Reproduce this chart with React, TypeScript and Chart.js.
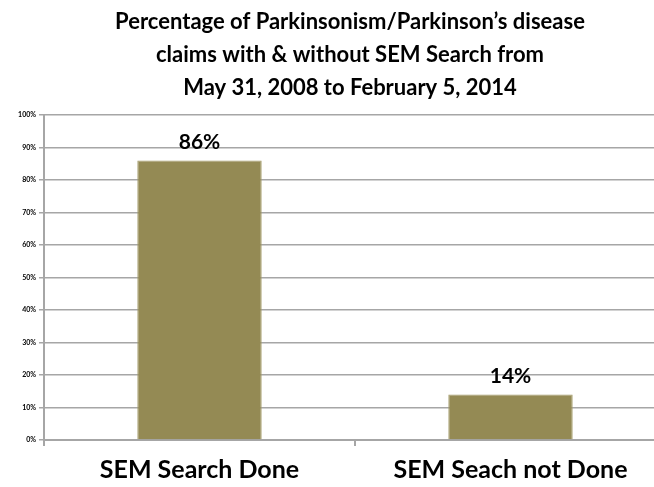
import React, { useEffect, useRef } from "react";
import { Chart, registerables } from "chart.js";

Chart.register(...registerables);

const categories = ["SEM Search Done", "SEM Seach not Done"];
const values = [86, 14];
const valueLabels = ["86%", "14%"];
const titleLines = [
  "Percentage of Parkinsonism/Parkinson\u2019s disease",
  "claims with & without SEM Search from",
  "May 31, 2008 to February 5, 2014",
];

const FONT = "Lato, 'Open Sans', sans-serif";

const barLabelPlugin = {
  id: "barLabels",
  afterDatasetsDraw(chart: any) {
    const ctx = chart.ctx;
    const meta = chart.getDatasetMeta(0);
    ctx.save();
    ctx.font = `bold 21px ${FONT}`;
    ctx.fillStyle = "#000";
    ctx.textAlign = "center";
    ctx.textBaseline = "middle";
    meta.data.forEach((bar: any, i: number) => {
      ctx.fillText(valueLabels[i], bar.x, bar.y - 18);
    });
    ctx.restore();
  },
};

const titlePlugin = {
  id: "centerTitle",
  afterDraw(chart: any) {
    const ctx = chart.ctx;
    ctx.save();
    ctx.font = `bold 22px ${FONT}`;
    ctx.fillStyle = "#000";
    ctx.textAlign = "center";
    ctx.textBaseline = "middle";
    titleLines.forEach((line, i) => {
      ctx.fillText(line, chart.width / 2, 22 + i * 33);
    });
    ctx.restore();
  },
};

export default function App() {
  const ref = useRef<HTMLCanvasElement>(null);
  useEffect(() => {
    if (!ref.current) return;
    const chart = new Chart(ref.current, {
      type: "bar",
      data: {
        labels: categories,
        datasets: [
          {
            data: values,
            backgroundColor: "#948A54",
            borderColor: "#A39A68",
            borderWidth: 1,
            barPercentage: 0.4,
            categoryPercentage: 1,
          },
        ],
      },
      options: {
        responsive: false,
        animation: false,
        layout: { padding: { left: 0, right: 34, top: 115, bottom: 0 } },
        plugins: {
          legend: { display: false },
          tooltip: { enabled: false },
          title: { display: false },
        },
        scales: {
          x: {
            afterFit(scale: any) {
              scale.height = 47;
            },
            grid: {
              offset: true,
              drawOnChartArea: false,
              color: "#A6A6A6",
              lineWidth: 2,
              tickLength: 6,
            },
            border: { color: "#A6A6A6", width: 2 },
            ticks: {
              color: "#000",
              padding: 9,
              font: { family: FONT, size: 25, weight: "bold" },
            },
          },
          y: {
            min: 0,
            max: 100,
            afterFit(scale: any) {
              scale.width = 44;
            },
            grid: {
              color: "#A6A6A6",
              lineWidth: 1.5,
              tickLength: 5,
            },
            border: { color: "#A6A6A6", width: 2 },
            ticks: {
              stepSize: 10,
              color: "#000",
              padding: 3,
              font: { family: FONT, size: 7, weight: "bold" },
              callback: (v: any) => v + "%",
            },
          },
        },
      },
      plugins: [barLabelPlugin, titlePlugin],
    });
    return () => chart.destroy();
  }, []);
  return (
    <div
      style={{
        position: "absolute",
        left: 0,
        top: 0,
        width: 654,
        height: 487,
        overflow: "hidden",
        background: "#fff",
      }}
    >
      <canvas ref={ref} width={700} height={487} />
    </div>
  );
}
